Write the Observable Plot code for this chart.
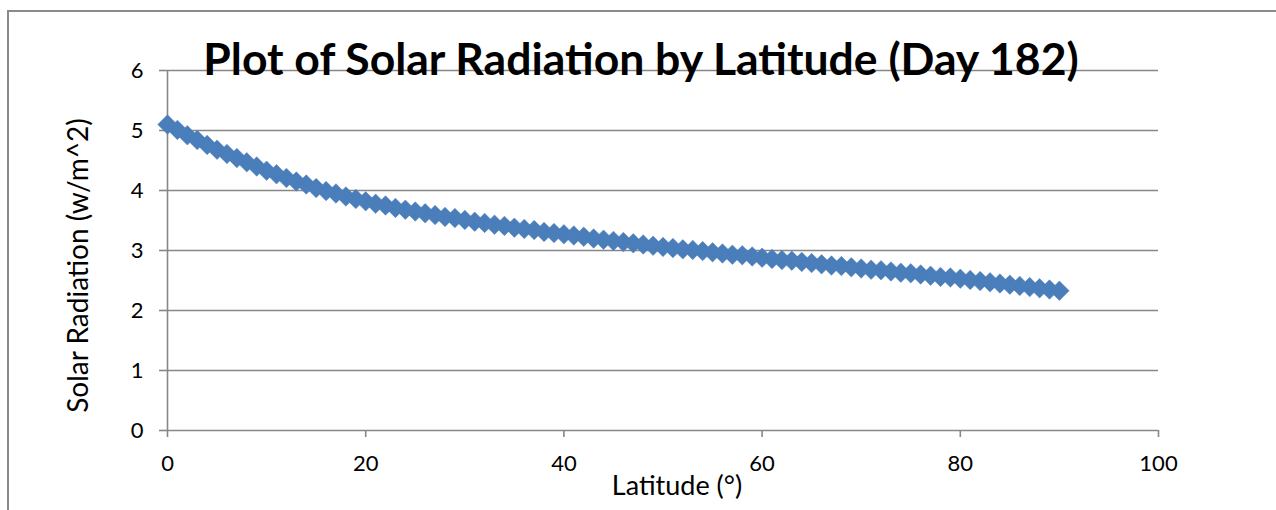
<!DOCTYPE html>
<html>
<head>
<meta charset="utf-8">
<script src="https://cdn.jsdelivr.net/npm/d3@7"></script>
<script src="https://cdn.jsdelivr.net/npm/@observablehq/plot@0.6"></script>
<style>
  html, body { margin: 0; padding: 0; background: #fff; }
  #wrap { position: relative; width: 1276px; height: 510px; overflow: hidden; }
  #border { position: absolute; left: 7px; top: 10px; width: 1400px; height: 600px;
            border-top: 2px solid #8a8a8a; border-left: 2px solid #8a8a8a; box-sizing: border-box; }
  #chart { position: absolute; left: 0; top: 0; }
</style>
</head>
<body>
<div id="wrap"><div id="border"></div><div id="chart"></div></div>
<script>
const titleText = "Plot of Solar Radiation by Latitude (Day 182)";
const xTitle = "Latitude (°)";
const yTitle = "Solar Radiation (w/m^2)";
const xTicks = [0, 20, 40, 60, 80, 100];
const yTicks = [0, 1, 2, 3, 4, 5, 6];

// latitude in degrees, 0..90
const latitude = [
  0,1,2,3,4,5,6,7,8,9,10,11,12,13,14,15,16,17,18,19,20,
  21,22,23,24,25,26,27,28,29,30,31,32,33,34,35,36,37,38,39,40,
  41,42,43,44,45,46,47,48,49,50,51,52,53,54,55,56,57,58,59,60,
  61,62,63,64,65,66,67,68,69,70,71,72,73,74,75,76,77,78,79,80,
  81,82,83,84,85,86,87,88,89,90
];
// solar radiation
const radiation = [
  5.10, 5.01, 4.92, 4.84, 4.76, 4.68,
  4.61, 4.54, 4.47, 4.40, 4.33,
  4.27, 4.21, 4.15, 4.10, 4.04,
  3.99, 3.95, 3.90, 3.86, 3.82,
  3.78, 3.75, 3.71, 3.68, 3.65,
  3.62, 3.59, 3.56, 3.54, 3.51,
  3.48, 3.46, 3.43, 3.41, 3.38,
  3.36, 3.34, 3.31, 3.29, 3.27,
  3.25, 3.23, 3.20, 3.18, 3.16,
  3.14, 3.12, 3.10, 3.08, 3.06,
  3.04, 3.02, 3.01, 2.99, 2.97,
  2.95, 2.93, 2.92, 2.90, 2.88,
  2.86, 2.84, 2.83, 2.81, 2.79,
  2.77, 2.75, 2.74, 2.72, 2.70,
  2.68, 2.67, 2.65, 2.63, 2.62,
  2.60, 2.58, 2.56, 2.55, 2.53,
  2.51, 2.49, 2.47, 2.45, 2.43,
  2.41, 2.39, 2.37, 2.35, 2.33
];

const data = latitude.map((lat, i) => ({lat, val: radiation[i]}));
const gridColor = "#878787";
const font = "Lato, 'Open Sans', sans-serif";

const chart = Plot.plot({
  width: 1276,
  height: 510,
  marginLeft: 167,
  marginRight: 118,
  marginTop: 70,
  marginBottom: 80,
  style: {fontFamily: font, fontSize: "22px", color: "#000", background: "transparent", overflow: "visible"},
  x: {domain: [0, 100], ticks: xTicks},
  y: {domain: [0, 6], ticks: yTicks},
  marks: [
    Plot.gridY(yTicks, {stroke: gridColor, strokeOpacity: 1, strokeWidth: 1.6}),
    Plot.ruleX([0], {y1: 0, y2: 6, stroke: gridColor, strokeWidth: 1.6}),
    Plot.axisY(yTicks, {tickSize: 8, tickPadding: 16, tickFormat: d => String(d), stroke: gridColor, strokeWidth: 1.6, strokeOpacity: 1, label: null, fill: "#000", fontSize: 22}),
    Plot.axisX(xTicks, {tickSize: 7, tickPadding: 18, tickFormat: d => String(d), stroke: gridColor, strokeWidth: 1.6, strokeOpacity: 1, label: null, fill: "#000", fontSize: 22}),
    Plot.dot(data, {x: "lat", y: "val", symbol: "diamond2", r: 8.8, fill: "#4a7ebb", stroke: "#4f81bd", strokeWidth: 0.5}),
    Plot.text([titleText], {frameAnchor: "top", text: d => d, dx: -22, dy: -10, fontSize: 44.5, fontWeight: "bold", fill: "#000", lineAnchor: "middle"}),
    Plot.text([xTitle], {frameAnchor: "bottom", text: d => d, dx: 14, dy: 56, fontSize: 27, fill: "#000", lineAnchor: "middle"}),
    Plot.text([yTitle], {frameAnchor: "left", text: d => d, rotate: -90, textAnchor: "middle", dx: -88, dy: 15, fontSize: 28, fill: "#000", lineAnchor: "middle"})
  ]
});
document.getElementById("chart").appendChild(chart);
</script>
</body>
</html>
